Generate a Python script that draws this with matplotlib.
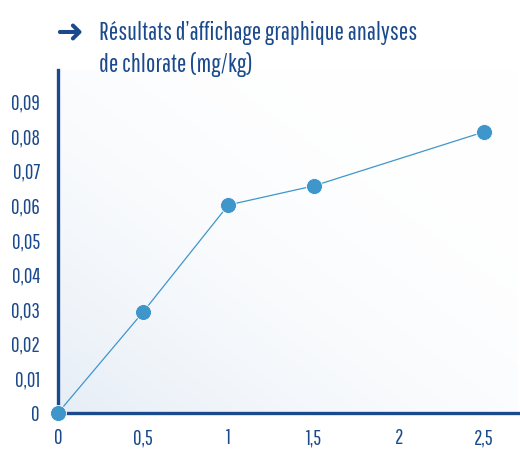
import matplotlib.pyplot as plt
import numpy as np
from matplotlib.ticker import FuncFormatter

x_vals = [0, 0.5, 1, 1.5, 2.5]
chlorate = [0, 0.0292, 0.0601, 0.0656, 0.0812]
x_ticks = [0, 0.5, 1, 1.5, 2, 2.5]
y_ticks = [0, 0.01, 0.02, 0.03, 0.04, 0.05, 0.06, 0.07, 0.08, 0.09]

dark = "#1b4a8c"
dot = "#3f96cb"
plt.rcParams['font.family'] = ['Pathway Gothic One', 'Barlow Condensed', 'DejaVu Sans']

fig = plt.figure(figsize=(5.2, 4.51), dpi=100)
ax = fig.add_axes([0.1115, 0.0843, 0.8846, 0.7605])

# soft gradient background, bluish at bottom left
gx, gy = np.meshgrid(np.linspace(0, 1, 200), np.linspace(0, 1, 200))
g = np.clip((gx + gy) / 2, 0, 1)
c0 = np.array([1.0, 1.0, 1.0])
c1 = np.array([0.90, 0.93, 0.965])
img = c0 + (c1 - c0) * (1 - g[..., None]) ** 2.6
ax.imshow(img, extent=[0, 1, 0, 1], transform=ax.transAxes, aspect='auto',
          origin='lower', zorder=0)

ax.plot(x_vals, chlorate, color=dot, lw=0.9, marker='o', ms=11.5,
        markeredgecolor='white', markeredgewidth=0.6, clip_on=False, zorder=5)

ax.set_xlim(0, 2.70)
ax.set_ylim(0, 0.0991)
ax.set_xticks(x_ticks)
ax.set_yticks(y_ticks)
fmt = FuncFormatter(lambda v, p: ("%g" % round(v, 3)).replace('.', ','))
ax.xaxis.set_major_formatter(fmt)
ax.yaxis.set_major_formatter(fmt)
ax.tick_params(length=0, labelsize=15, colors=dark)
ax.tick_params(axis='x', pad=11)
ax.tick_params(axis='y', pad=13)

for s in ['top', 'right']:
    ax.spines[s].set_visible(False)
for s in ['left', 'bottom']:
    ax.spines[s].set_color(dark)
    ax.spines[s].set_linewidth(2.4)

fig.text(0.105, 0.929, "\u279c", color=dark, fontsize=24, family=['DejaVu Sans'],
         ha='left', va='center', fontweight='bold')
fig.text(0.19, 0.891, "Résultats d\u2019affichage graphique analyses\nde chlorate (mg/kg)",
         color=dark, fontsize=18, ha='left', va='center', linespacing=1.36)

plt.savefig("out.png", dpi=100)
